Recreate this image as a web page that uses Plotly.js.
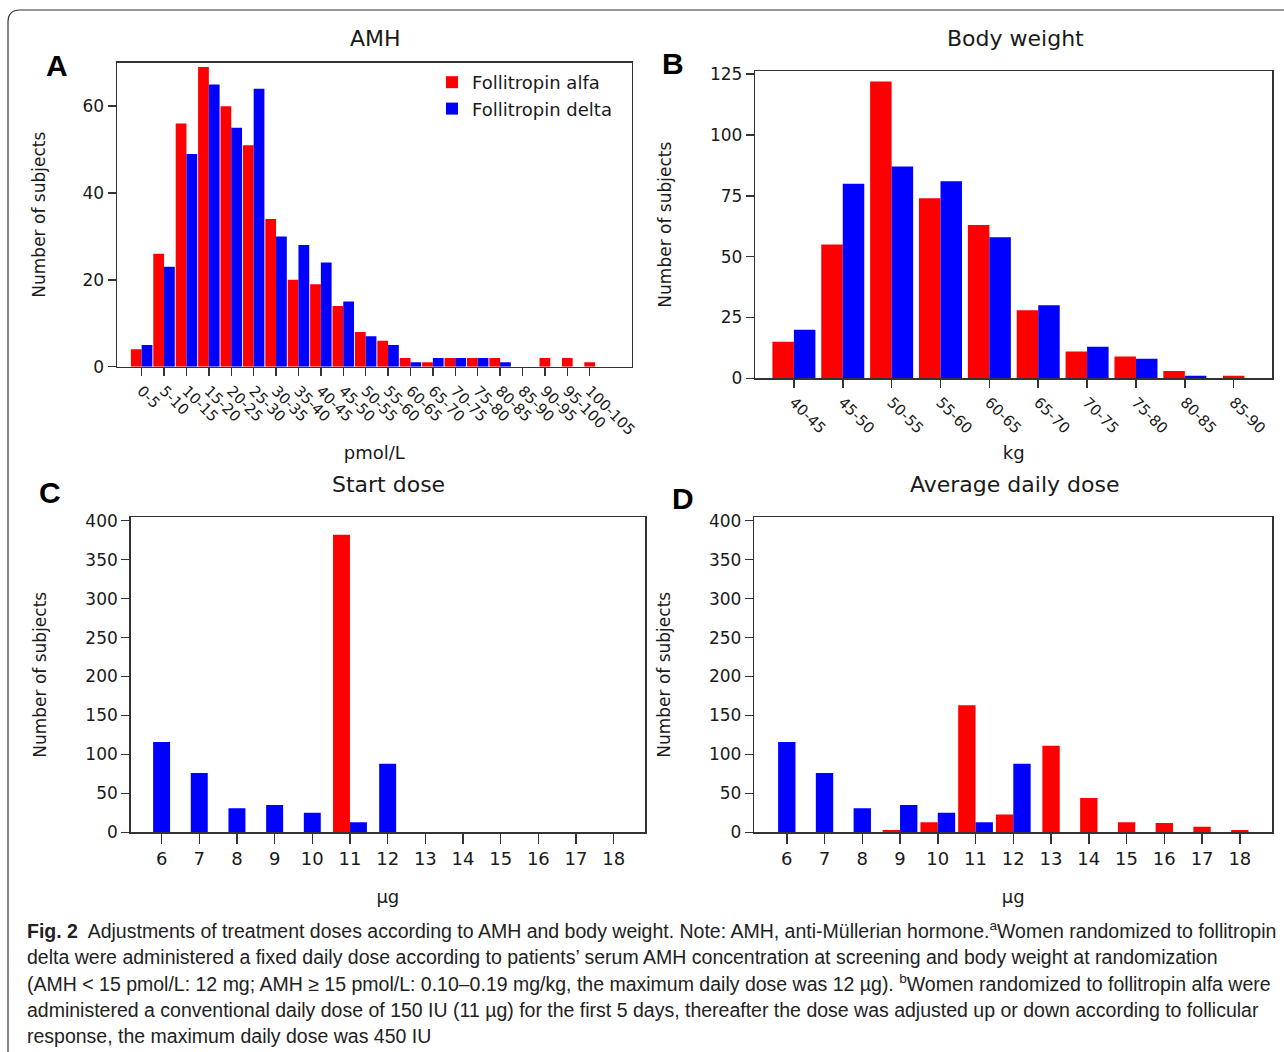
<!DOCTYPE html>
<html>
<head>
<meta charset="utf-8">
<script src="https://cdn.plot.ly/plotly-3.0.1.min.js"></script>
<style>html,body{margin:0;padding:0;background:#fff;}#chart{width:1284px;height:1052px;}</style>
</head>
<body>
<div id="chart"></div>
<script>
// ---------- data ----------
const amhCats = ['0-5','5-10','10-15','15-20','20-25','25-30','30-35','35-40','40-45','45-50','50-55','55-60','60-65','65-70','70-75','75-80','80-85','85-90','90-95','95-100','100-105'];
const amhAlfa  = [4,26,56,69,60,51,34,20,19,14,8,6,2,1,2,2,2,0,2,2,1];
const amhDelta = [5,23,49,65,55,64,30,28,24,15,7,5,1,2,2,2,1,0,0,0,0];

const weightCats  = ['40-45','45-50','50-55','55-60','60-65','65-70','70-75','75-80','80-85','85-90'];
const weightAlfa  = [15,55,122,74,63,28,11,9,3,1];
const weightDelta = [20,80,87,81,58,30,13,8,1,0];

const doseCats   = ['6','7','8','9','10','11','12','13','14','15','16','17','18'];
const startAlfa  = [0,0,0,0,0,382,0,0,0,0,0,0,0];
const startDelta = [116,76,31,35,25,13,88,0,0,0,0,0,0];
const avgAlfa    = [0,0,0,3,13,163,23,111,44,13,12,7,3];
const avgDelta   = [116,76,31,35,25,13,88,0,0,0,0,0,0];

const seriesNames = ['Follitropin alfa','Follitropin delta'];
const RED = '#ff0000', BLUE = '#0000ff';

// ---------- helpers ----------
const W = 1284, H = 1052;
const px = v => v / W;
const py = v => 1 - v / H;

function pairTraces(cats, alfa, delta, w, xa, ya, showLegend) {
  // a bar is centred on its category when the other series has no bar there
  const offA = alfa.map((v, i) => delta[i] > 0 ? -w : -w / 2);
  const offD = delta.map((v, i) => alfa[i] > 0 ? 0 : -w / 2);
  return [
    {type: 'bar', x: cats, y: alfa, name: seriesNames[0], marker: {color: RED, line: {width: 0}},
     width: w, offset: offA, xaxis: xa, yaxis: ya, showlegend: showLegend, legendgroup: 'a'},
    {type: 'bar', x: cats, y: delta, name: seriesNames[1], marker: {color: BLUE, line: {width: 0}},
     width: w, offset: offD, xaxis: xa, yaxis: ya, showlegend: showLegend, legendgroup: 'd'}
  ];
}

const data = [].concat(
  pairTraces(amhCats, amhAlfa, amhDelta, 0.48, 'x', 'y', true),
  pairTraces(weightCats, weightAlfa, weightDelta, 0.44, 'x2', 'y2', false),
  pairTraces(doseCats, startAlfa, startDelta, 0.45, 'x3', 'y3', false),
  pairTraces(doseCats, avgAlfa, avgDelta, 0.46, 'x4', 'y4', false)
);

const FONT = 'DejaVu Sans, Verdana, sans-serif';
const TXT = '#1a1a1a';
const axBase = {
  showline: true, mirror: true, linecolor: '#333', linewidth: 1.5,
  ticks: 'outside', ticklen: 8, tickwidth: 1.5, tickcolor: '#333',
  showgrid: false, zeroline: false, automargin: false,
  tickfont: {family: FONT, size: 17, color: TXT}, fixedrange: true
};
function ax(extra) { return Object.assign({}, axBase, extra); }

const layout = {
  width: W, height: H,
  margin: {l: 0, r: 0, t: 0, b: 0, pad: 0},
  paper_bgcolor: '#fff', plot_bgcolor: '#fff',
  font: {family: FONT, color: TXT},
  barmode: 'overlay',
  showlegend: true,
  legend: {x: px(432), y: py(64), xanchor: 'left', yanchor: 'top', bgcolor: 'rgba(0,0,0,0)',
           font: {family: FONT, size: 18, color: TXT}, tracegroupgap: 0, itemwidth: 30},
  xaxis: ax({domain: [px(117), px(631.7)], anchor: 'y', type: 'category', range: [-1.1, 21.875],
             tickangle: 45, tickfont: {family: FONT, size: 15, color: TXT},
             title: {text: 'pmol/L', font: {family: FONT, size: 18, color: TXT}, standoff: 8}}),
  yaxis: ax({domain: [py(366.7), py(62.7)], anchor: 'x', range: [0, 70], dtick: 20,
             title: {text: 'Number of subjects', font: {family: FONT, size: 17, color: TXT}, standoff: 32}}),
  xaxis2: ax({domain: [px(755.3), px(1272.3)], anchor: 'y2', type: 'category', range: [-0.79, 9.79],
             tickangle: 45, tickfont: {family: FONT, size: 15, color: TXT},
             title: {text: 'kg', font: {family: FONT, size: 18, color: TXT}, standoff: 10}}),
  yaxis2: ax({domain: [py(378.3), py(71)], anchor: 'x2', range: [0, 126.3], dtick: 25,
             title: {text: 'Number of subjects', font: {family: FONT, size: 17, color: TXT}, standoff: 34}}),
  xaxis3: ax({domain: [px(130.7), px(645)], anchor: 'y3', type: 'category', range: [-0.82, 12.83],
             tickangle: 0, ticklen: 10, tickfont: {family: FONT, size: 18, color: TXT},
             title: {text: 'µg', font: {family: FONT, size: 18, color: TXT}, standoff: 22}}),
  yaxis3: ax({domain: [py(832.3), py(517.3)], anchor: 'x3', range: [0, 404.4], dtick: 50,
             title: {text: 'Number of subjects', font: {family: FONT, size: 17, color: TXT}, standoff: 34}}),
  xaxis4: ax({domain: [px(754.3), px(1272.3)], anchor: 'y4', type: 'category', range: [-0.86, 12.86],
             tickangle: 0, ticklen: 10, tickfont: {family: FONT, size: 18, color: TXT},
             title: {text: 'µg', font: {family: FONT, size: 18, color: TXT}, standoff: 22}}),
  yaxis4: ax({domain: [py(832.3), py(517.3)], anchor: 'x4', range: [0, 404.4], dtick: 50,
             title: {text: 'Number of subjects', font: {family: FONT, size: 17, color: TXT}, standoff: 34}}),
  shapes: [
    {type: 'path', xref: 'paper', yref: 'paper',
     path: `M ${px(8)} ${py(1060)} L ${px(8)} ${py(22)} Q ${px(8)} ${py(10)} ${px(20)} ${py(10)} L ${px(1290)} ${py(10)}`,
     line: {color: '#333', width: 1.2}}
  ],
  annotations: []
};

function note(text, x, y, size, opts) {
  layout.annotations.push(Object.assign({
    text: text, xref: 'paper', yref: 'paper', x: px(x), y: py(y),
    xanchor: 'center', yanchor: 'middle', showarrow: false,
    font: {family: FONT, size: size, color: TXT}
  }, opts || {}));
}
// panel titles
note('AMH', 375, 38, 22);
note('Body weight', 1015, 38, 22);
note('Start dose', 388, 485, 22);
note('Average daily dose', 1014, 485, 22);
// panel letters
const BOLD = 'Liberation Sans, Arial, sans-serif';
note('<b>A</b>', 57, 65, 30, {font: {family: BOLD, size: 30, color: '#000'}});
note('<b>B</b>', 673, 63, 30, {font: {family: BOLD, size: 30, color: '#000'}});
note('<b>C</b>', 50, 492, 30, {font: {family: BOLD, size: 30, color: '#000'}});
note('<b>D</b>', 683, 498, 30, {font: {family: BOLD, size: 30, color: '#000'}});

// caption
const CAP = 'Liberation Sans, Arial, sans-serif';
const capLines = [
  '<b>Fig. 2</b>  Adjustments of treatment doses according to AMH and body weight. Note: AMH, anti-Müllerian hormone.<sup>a</sup>Women randomized to follitropin',
  'delta were administered a fixed daily dose according to patients’ serum AMH concentration at screening and body weight at randomization',
  '(AMH < 15 pmol/L: 12 mg; AMH ≥ 15 pmol/L: 0.10–0.19 mg/kg, the maximum daily dose was 12 µg). <sup>b</sup>Women randomized to follitropin alfa were',
  'administered a conventional daily dose of 150 IU (11 µg) for the first 5 days, thereafter the dose was adjusted up or down according to follicular',
  'response, the maximum daily dose was 450 IU'
];
const capY = [930, 956.5, 983, 1009.5, 1036];
capLines.forEach((t, i) => note(t, 25, capY[i], 19.5, {xanchor: 'left', font: {family: CAP, size: 19.5, color: '#222'}}));

Plotly.newPlot('chart', data, layout, {displayModeBar: false, staticPlot: true});
</script>
</body>
</html>
